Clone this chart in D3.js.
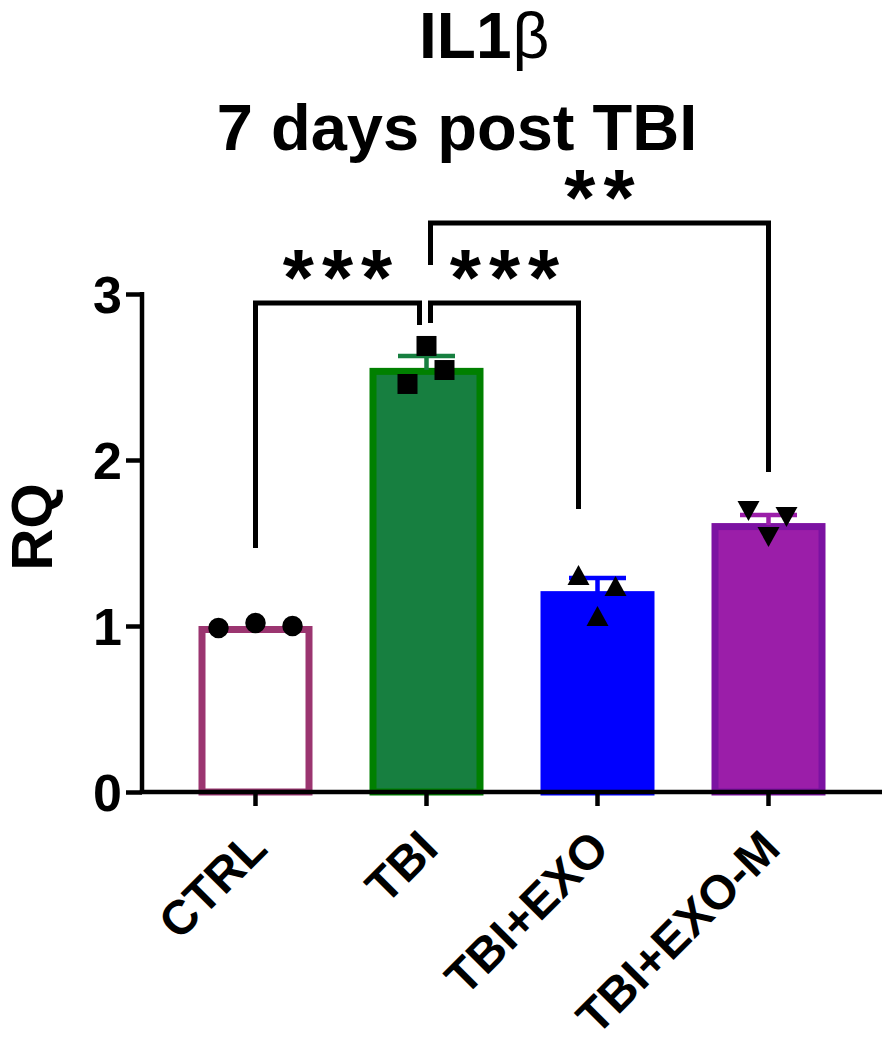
<!DOCTYPE html>
<html>
<head>
<meta charset="utf-8">
<script src="https://cdn.jsdelivr.net/npm/d3@7"></script>
<style>
  html, body { margin: 0; padding: 0; background: #fff; }
  svg { display: block; }
  text { font-family: "Liberation Sans", Arial, Helvetica, sans-serif; font-weight: bold; fill: #000; }
</style>
</head>
<body>
<svg id="chart" width="891" height="1050"></svg>
<script>
// ---------------- data ----------------
const categories = ["CTRL", "TBI", "TBI+EXO", "TBI+EXO-M"];
const means = [1.00, 2.555, 1.21, 1.62];
const sems = [0, 0.072, 0.079, 0.049];
const ctrlPoints = [0.988, 1.018, 1.000];
const tbiPoints = [2.687, 2.542, 2.458];
const exoPoints = [1.307, 1.241, 1.060];
const exoMPoints = [1.693, 1.657, 1.536];
const yTicks = [0, 1, 2, 3];
const comparisons = [
  { from: "CTRL", to: "TBI", label: "***" },
  { from: "TBI", to: "TBI+EXO", label: "***" },
  { from: "TBI", to: "TBI+EXO-M", label: "**" }
];
const titleLine1 = "IL1";
const titleGreek = "β";
const titleLine2 = "7 days post TBI";
const yLabel = "RQ";

// ---------------- layout / style ----------------
const groupPoints = [ctrlPoints, tbiPoints, exoPoints, exoMPoints];
const jitter = [[-37, 0, 37], [0, 18, -19], [-19, 18, 0], [-20, 18, 0]];
const markerKind = ["circle", "square", "up", "down"];
const fills = ["#ffffff", "#177f40", "#0000ff", "#9b1ea9"];
const strokes = ["#9b3570", "#008000", "#0000ff", "#7c12a2"];
const errColors = ["#9b3570", "#177f40", "#0000ff", "#9b1ea9"];
// bracket geometry (data units / px offsets)
const bracketLevel = [2.946, 2.946, 3.428];
const bracketLegs = [[1.47, 2.813], [2.825, 1.705], [3.175, 1.928]];
const bracketDx = [[0, -7], [4, -19], [4, 0]];

const svg = d3.select("#chart");
const axisX = 142;
const x = d3.scaleBand().domain(categories).range([170, 854]).paddingInner(1/3).paddingOuter(1/6);
const y = d3.scaleLinear().domain([0, 3]).range([792, 294]);
const cx = c => x(c) + x.bandwidth() / 2;

// bars
const bw = 7;
svg.append("g").selectAll("rect").data(categories).join("rect")
  .attr("x", d => x(d) + bw / 2)
  .attr("width", x.bandwidth() - bw)
  .attr("y", (d, i) => y(means[i]) + bw / 2)
  .attr("height", (d, i) => y(0) - y(means[i]) - bw / 2)
  .attr("fill", (d, i) => fills[i])
  .attr("stroke", (d, i) => strokes[i])
  .attr("stroke-width", bw);

// error bars (upward only)
const capHalf = 28.5;
categories.forEach((c, i) => {
  if (sems[i] <= 0) return;
  const g = svg.append("g").attr("stroke", errColors[i]).attr("stroke-width", 4.5);
  g.append("line").attr("x1", cx(c)).attr("x2", cx(c))
    .attr("y1", y(means[i]) + 2).attr("y2", y(means[i] + sems[i]));
  g.append("line").attr("x1", cx(c) - capHalf).attr("x2", cx(c) + capHalf)
    .attr("y1", y(means[i] + sems[i])).attr("y2", y(means[i] + sems[i]));
});

// points
function markerPath(kind) {
  if (kind === "circle") return d3.symbol(d3.symbolCircle, Math.PI * 105)();
  if (kind === "square") return "M-10,-10H10V10H-10Z";
  if (kind === "up") return "M0,-10L11,10L-11,10Z";
  return "M0,10L11,-10L-11,-10Z";
}
categories.forEach((c, i) => {
  svg.append("g").selectAll("path").data(groupPoints[i]).join("path")
    .attr("d", markerPath(markerKind[i]))
    .attr("transform", (v, j) => `translate(${cx(c) + jitter[i][j]},${y(v)})`)
    .attr("fill", "#000");
});

// axes
const yAxis = d3.axisLeft(y).tickValues(yTicks).tickFormat(d3.format("d")).tickSize(16).tickPadding(4);
const yg = svg.append("g").attr("transform", `translate(${axisX},0)`).call(yAxis);
yg.select(".domain").remove();
yg.selectAll(".tick line").attr("stroke", "#000").attr("stroke-width", 4.5);
yg.selectAll(".tick text").attr("font-size", 52).attr("font-family", "'Liberation Sans', Arial, sans-serif")
  .attr("font-weight", "bold").attr("dy", "0.36em");
svg.append("line").attr("x1", axisX).attr("x2", axisX).attr("y1", y(3) - 2).attr("y2", y(0))
  .attr("stroke", "#000").attr("stroke-width", 4.5);

const xAxis = d3.axisBottom(x).tickSize(14).tickFormat("");
const xg = svg.append("g").attr("transform", `translate(0,${y(0)})`).call(xAxis);
xg.select(".domain").remove();
xg.selectAll(".tick line").attr("stroke", "#000").attr("stroke-width", 4.5);
svg.append("line").attr("x1", axisX - 2.25).attr("x2", 882).attr("y1", y(0)).attr("y2", y(0))
  .attr("stroke", "#000").attr("stroke-width", 4.5);

// x labels rotated
svg.append("g").selectAll("text").data(categories).join("text")
  .attr("transform", d => `translate(${cx(d) + 14},851) rotate(-45)`)
  .attr("text-anchor", "end")
  .attr("font-size", 48)
  .text(d => d);

// y label
svg.append("text").attr("transform", "translate(52,527) rotate(-90)")
  .attr("text-anchor", "middle").attr("font-size", 58).text(yLabel);

// title
const t1 = svg.append("text").attr("x", 419).attr("y", 58).attr("font-size", 64);
t1.append("tspan").text(titleLine1);
t1.append("tspan").attr("font-weight", "normal").attr("dx", 1).text(titleGreek);
svg.append("text").attr("x", 457).attr("y", 150).attr("text-anchor", "middle")
  .attr("font-size", 65).text(titleLine2);

// significance brackets
comparisons.forEach((cmp, k) => {
  const x1 = cx(cmp.from) + bracketDx[k][0];
  const x2 = cx(cmp.to) + bracketDx[k][1];
  const yl = y(bracketLevel[k]);
  svg.append("path")
    .attr("d", `M${x1},${y(bracketLegs[k][0])}V${yl}H${x2}V${y(bracketLegs[k][1])}`)
    .attr("fill", "none").attr("stroke", "#000").attr("stroke-width", 5)
    .attr("stroke-linejoin", "miter");
  svg.append("text").attr("x", (x1 + x2) / 2 + 4).attr("y", yl + 2)
    .attr("text-anchor", "middle").attr("font-size", 80).attr("letter-spacing", 8)
    .text(cmp.label);
});
</script>
</body>
</html>
